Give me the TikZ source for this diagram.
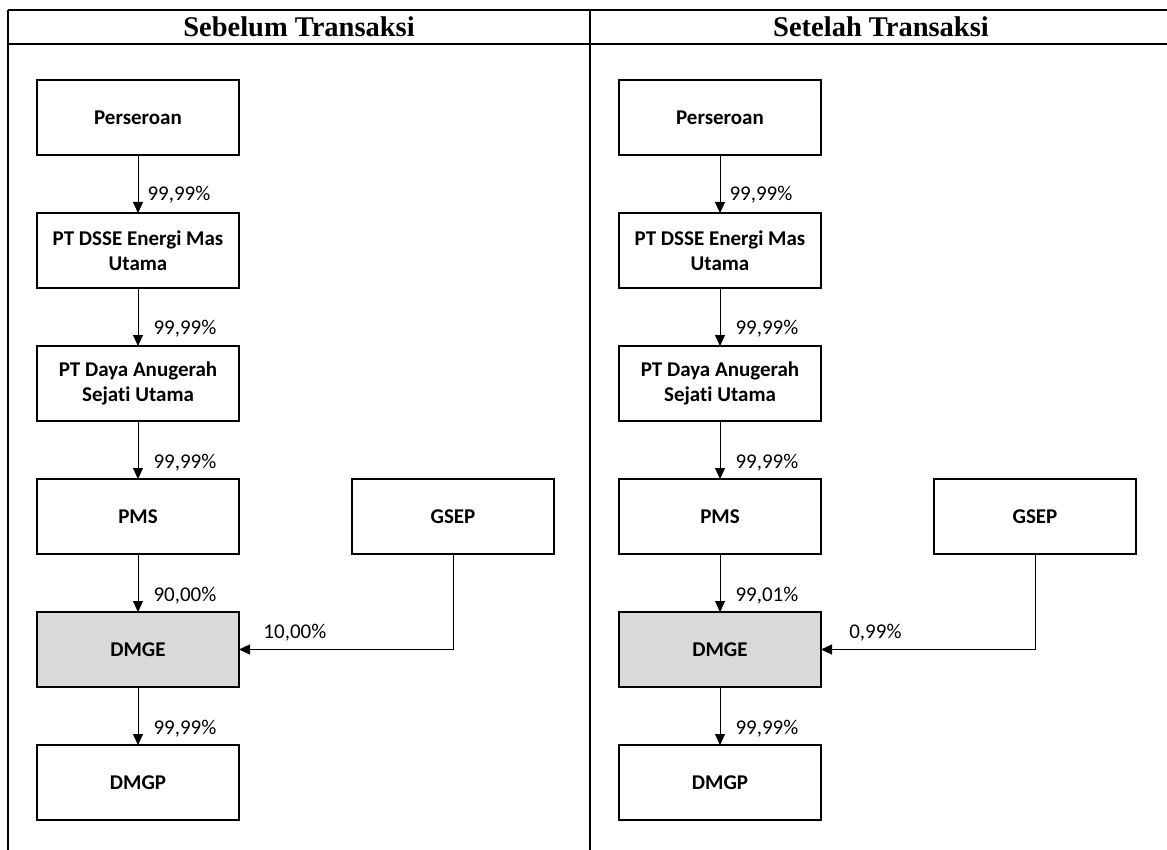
\documentclass[tikz,border=0pt]{standalone}
\usepackage{fontspec}
\setmainfont[Ligatures=NoCommon]{Carlito}
\newfontfamily\headfont{Liberation Serif}
\usepackage{tikz}
\usetikzlibrary{arrows.meta,positioning}
\definecolor{shade}{HTML}{D9D9D9}

\begin{document}
\begin{tikzpicture}[
    x=1pt, y=-1pt,
    entity/.style={
        draw=black,
        line width=2.8pt,
        minimum width=202pt,
        minimum height=75pt,
        inner sep=0pt,
        outer sep=0pt,
        align=center,
        font=\fontsize{21}{25}\selectfont\bfseries},
    target/.style={
        entity,
        fill=shade},
    share/.style={
        anchor=west,
        inner sep=0pt,
        font=\fontsize{21}{25}\selectfont},
    owns/.style={
        -{Triangle[length=11pt,width=10pt]},
        line width=1pt},
    heading/.style={
        font=\headfont\fontsize{28.5}{32}\selectfont\bfseries},
    frame/.style={line width=2pt},
    node distance=58pt
  ]
  \useasboundingbox (0,0) rectangle (1167,850);
  % Table
  \draw[frame] (8,10) -- (1167,10);
  \draw[frame] (8,44) -- (1167,44);
  \draw[frame] (8,10) -- (8,850);
  \draw[frame] (590,10) -- (590,850);
  \node[heading] (headA) at (299,27) {Sebelum Transaksi};
  \node[heading] (headB) at (881,27) {Setelah Transaksi};
  % Sebelum
  \node[entity] (perseroanA) at (138,117.5) {Perseroan};
  \node[entity, below=of perseroanA] (dsseA) {PT DSSE Energi Mas\\Utama};
  \node[entity, below=of dsseA] (dayaA) {PT Daya Anugerah\\Sejati Utama};
  \node[entity, below=of dayaA] (pmsA) {PMS};
  \node[entity, right=113pt of pmsA] (gsepA) {GSEP};
  \node[target, below=of pmsA] (dmgeA) {DMGE};
  \node[entity, below=of dmgeA] (dmgpA) {DMGP};
  \draw[owns] (perseroanA) -- node[share, pos=0.69, xshift=9pt] {99,99\%} (dsseA);
  \draw[owns] (dsseA) -- node[share, pos=0.71, xshift=15pt] {99,99\%} (dayaA);
  \draw[owns] (dayaA) -- node[share, pos=0.71, xshift=15pt] {99,99\%} (pmsA);
  \draw[owns] (pmsA) -- node[share, pos=0.71, xshift=15pt] {90,00\%} (dmgeA);
  \draw[owns] (gsepA) |- node[share, pos=0.944, yshift=17pt] {10,00\%} (dmgeA);
  \draw[owns] (dmgeA) -- node[share, pos=0.71, xshift=15pt] {99,99\%} (dmgpA);
  % Setelah
  \node[entity] (perseroanB) at (720,117.5) {Perseroan};
  \node[entity, below=of perseroanB] (dsseB) {PT DSSE Energi Mas\\Utama};
  \node[entity, below=of dsseB] (dayaB) {PT Daya Anugerah\\Sejati Utama};
  \node[entity, below=of dayaB] (pmsB) {PMS};
  \node[entity, right=113pt of pmsB] (gsepB) {GSEP};
  \node[target, below=of pmsB] (dmgeB) {DMGE};
  \node[entity, below=of dmgeB] (dmgpB) {DMGP};
  \draw[owns] (perseroanB) -- node[share, pos=0.69, xshift=9pt] {99,99\%} (dsseB);
  \draw[owns] (dsseB) -- node[share, pos=0.71, xshift=15pt] {99,99\%} (dayaB);
  \draw[owns] (dayaB) -- node[share, pos=0.71, xshift=15pt] {99,99\%} (pmsB);
  \draw[owns] (pmsB) -- node[share, pos=0.71, xshift=15pt] {99,01\%} (dmgeB);
  \draw[owns] (gsepB) |- node[share, pos=0.935, yshift=17pt] {0,99\%} (dmgeB);
  \draw[owns] (dmgeB) -- node[share, pos=0.71, xshift=15pt] {99,99\%} (dmgpB);
\end{tikzpicture}
\end{document}
